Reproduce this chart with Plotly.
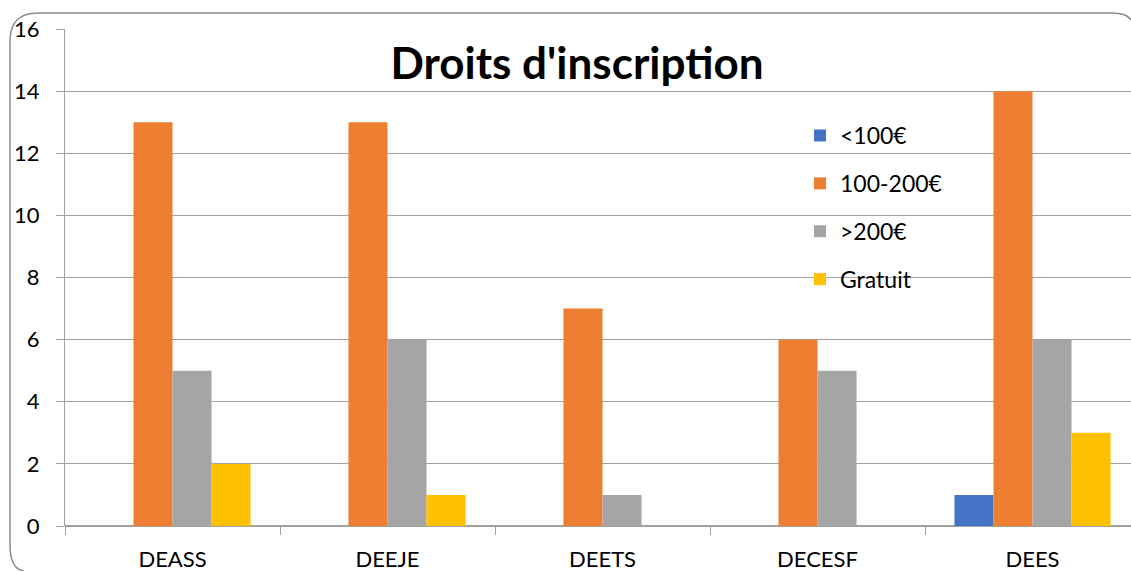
import plotly.graph_objects as go

categories = ["DEASS", "DEEJE", "DEETS", "DECESF", "DEES"]
series_names = ["<100€", "100-200€", ">200€", "Gratuit"]
under_100 = [0, 0, 0, 0, 1]
from_100_to_200 = [13, 13, 7, 6, 14]
over_200 = [5, 6, 1, 5, 6]
gratuit = [2, 1, 0, 0, 3]
colors = ["#4472C4", "#ED7D31", "#A5A5A5", "#FFC000"]

W, H = 1131, 571
L, T, B = 65, 29, 45
plot_w = W - L
plot_h = H - T - B
cat_px = 215  # pixel width of one category slot


def px(x, y):
    # page pixel -> paper coords
    return f"{(x - L) / plot_w},{(H - B - y) / plot_h}"


fig = go.Figure()
for name, vals, col in zip(series_names, [under_100, from_100_to_200, over_200, gratuit], colors):
    fig.add_trace(go.Bar(
        x=categories, y=vals, name=name, legendgroup=name,
        marker=dict(color=col, line=dict(width=0)),
    ))

# visible part of the rounded frame (right and bottom sides are cut off)
frame = (f"M {px(1131, 20)} Q {px(1127, 13)} {px(1112, 13)} L {px(38, 13)} "
         f"Q {px(10, 13)} {px(10, 41)} L {px(10, 545)} Q {px(10, 569)} {px(24, 571)}")

font = "Lato, Calibri, sans-serif"
fig.update_layout(
    width=W, height=H,
    margin=dict(l=L, r=0, t=T, b=B),
    paper_bgcolor="white", plot_bgcolor="white",
    font=dict(family=font, size=22, color="black"),
    barmode="group", bargap=0.274, bargroupgap=0,
    title=dict(text="<b>Droits d'inscription</b>", font=dict(size=44, family=font),
               xref="paper", x=(577 - L) / plot_w, xanchor="center",
               yref="container", y=1 - 64 / H, yanchor="middle"),
    legend=dict(x=(800 - L) / plot_w, y=(H - B - 114) / plot_h, xanchor="left", yanchor="top",
                bgcolor="rgba(0,0,0,0)", font=dict(size=23), tracegroupgap=15,
                itemclick=False),
    shapes=[dict(type="path", path=frame, xref="paper", yref="paper",
                 line=dict(color="#8C8C8C", width=1.5), layer="above")],
)

fig.update_xaxes(
    range=[-0.5, -0.5 + plot_w / cat_px], tickson="boundaries", ticks="outside", ticklen=8,
    tickcolor="#A0A0A0", showline=False, showgrid=False, tickfont=dict(size=22),
    ticklabelstandoff=18, automargin=False,
)
fig.update_yaxes(
    range=[0, 16], dtick=2, ticks="outside", ticklen=8, tickcolor="#A0A0A0",
    showgrid=True, gridcolor="#A0A0A0", gridwidth=1, showline=True, linecolor="#A0A0A0",
    zeroline=True, zerolinecolor="#A0A0A0", tickfont=dict(size=22), ticklabelstandoff=12,
    automargin=False,
)

fig.write_html("out.html", config={"displayModeBar": False},
               post_script="document.body.style.margin='0';document.body.style.overflow='hidden';")
